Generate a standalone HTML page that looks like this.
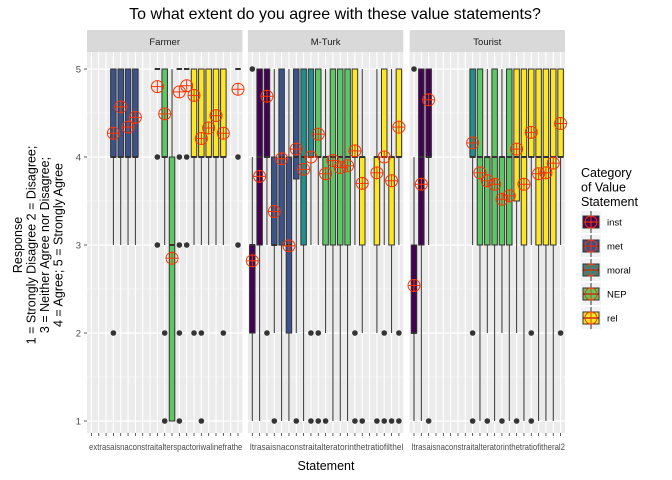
<!DOCTYPE html>
<html><head><meta charset="utf-8"><style>
body{margin:0;background:#fff;}
svg{display:block;font-family:"Liberation Sans",sans-serif;}
</style></head><body>
<svg id="chart" width="672" height="480" viewBox="0 0 672 480"></svg>
<script>
const catNames=["inst","met","moral","NEP","rel"];
const catColors=["#440154","#3B528B","#21908C","#5DC863","#FDE725"];
const stmtCat=[0,0,0,1,1,1,1,2,2,3,3,3,3,3,4,4,4,4,4,4,4];
const facets=["Farmer","M-Turk","Tourist"];
const yTicks=[1,2,3,4,5];
// Farmer
const fIdx=[3,4,5,6,9,10,11,12,13,14,15,16,17,18,20];
const fLo =[3,3,3,3,5,3,1,5,5,3,3,3,3,3,5];
const fQ1 =[4,4,4,4,5,4,1,5,5,4,4,4,4,4,5];
const fMed=[4,4,4,4,5,4,3,5,5,4,4,4,4,4,5];
const fQ3 =[5,5,5,5,5,5,4,5,5,5,5,5,5,5,5];
const fHi =[5,5,5,5,5,5,5,5,5,5,5,5,5,5,5];
const fMean=[4.27,4.57,4.34,4.45,4.8,4.49,2.85,4.74,4.81,4.7,4.21,4.33,4.47,4.27,4.77];
const fOutIdx=[9,12,13,20,9,12,13,20,3,10,12,14,15,18,10,12,15];
const fOutVal=[4,4,4,4,3,3,3,3,2,2,2,2,2,2,1,1,1];
// M-Turk
const mIdx=[0,1,2,3,4,5,6,7,8,9,10,11,12,13,14,15,17,18,19,20];
const mLo =[1,1,3,2,1,1,2,1,3,3,2,1,1,1,3,2,2,3,2,3];
const mQ1 =[2,3,4,3,3,2,3.75,3,4,4,3,3,3,3,4,3,3,4,3,4];
const mMed=[3,4,4,3,4,3,4,4,4,4,4,4,4,4,4,4,4,4,4,4];
const mQ3 =[3,5,5,4,5,4,5,5,5,5,4,5,5,5,5,4,4,5,4,5];
const mHi =[4,5,5,5,5,5,5,5,5,5,5,5,5,5,5,5,5,5,5,5];
const mMean=[2.82,3.78,4.69,3.38,3.98,2.99,4.09,3.86,4.0,4.26,3.81,3.96,3.88,3.9,4.07,3.7,3.82,4.0,3.73,4.34];
const mOutIdx=[0,2,8,9,14,18,20,3,6,8,9,10,14,15,17,18,19,20];
const mOutVal=[5,2,2,2,2,2,2,1,1,1,1,1,1,1,1,1,1,1];
// Tourist
const tIdx=[0,1,2,8,9,10,11,12,13,14,15,16,17,18,19,20];
const tLo =[1,1,3,3,1,2,1,2,1,2,1,3,1,1,1,3];
const tQ1 =[2,3,4,4,3,3,3,3,3,3.5,3,4,3,3,3,4];
const tMed=[2,4,4,4,4,4,4,4,4,4,4,4,4,4,4,4];
const tQ3 =[3,5,5,5,5,4,5,4,5,5,5,5,5,5,5,5];
const tHi =[4,5,5,5,5,5,5,5,5,5,5,5,5,5,5,5];
const tMean=[2.54,3.69,4.65,4.16,3.82,3.73,3.69,3.52,3.56,4.09,3.69,4.28,3.81,3.82,3.93,4.38];
const tOutIdx=[0,8,16,20,2,8,10,12,14,16];
const tOutVal=[5,2,2,2,1,1,1,1,1,1];

const panels=[
 {idx:fIdx,lo:fLo,q1:fQ1,med:fMed,q3:fQ3,hi:fHi,mean:fMean,oi:fOutIdx,ov:fOutVal},
 {idx:mIdx,lo:mLo,q1:mQ1,med:mMed,q3:mQ3,hi:mHi,mean:mMean,oi:mOutIdx,ov:mOutVal},
 {idx:tIdx,lo:tLo,q1:tQ1,med:tMed,q3:tQ3,hi:tHi,mean:tMean,oi:tOutIdx,ov:tOutVal}];

const NS="http://www.w3.org/2000/svg";
const svg=document.getElementById('chart');
function mk(tag,attrs,parent,txt){const e=document.createElementNS(NS,tag);for(const k in attrs)e.setAttribute(k,attrs[k]);if(txt!==undefined)e.textContent=txt;(parent||svg).appendChild(e);return e;}
const N=21, step=7.33, pW=(N-1+1.2)*step;
const panelLeft=[87,247.9,409.6];
const pTop=52, pBot=433;
function yS(v){return 421-(v-1)*88;}
function xS(p,i){return panelLeft[p]+0.6*step+i*step;}

let t=mk('text',{x:335,y:19,'text-anchor':'middle','font-size':16,fill:'#000'},svg,'To what extent do you agree with these value statements?');



panels.forEach((P,p)=>{
  const L=panelLeft[p];
  const g=mk('g',{});
  
  
  let s=mk('rect',{x:L,y:30,width:pW,height:22,fill:'#D9D9D9'},g);
  
  
  let st=mk('text',{x:L+pW/2,y:45,'text-anchor':'middle','font-size':9.5,fill:'#1a1a1a'},g,facets[p]);
  
  
  mk('rect',{x:L,y:pTop,width:pW,height:pBot-pTop,fill:'#EBEBEB'},g);
  for(let v=1.5;v<5;v++)mk('line',{x1:L,x2:L+pW,y1:yS(v),y2:yS(v),stroke:'#fff','stroke-width':0.6},g);
  yTicks.forEach(v=>mk('line',{x1:L,x2:L+pW,y1:yS(v),y2:yS(v),stroke:'#fff','stroke-width':1.2},g));
  for(let i=0;i<N;i++){
    mk('line',{x1:xS(p,i),x2:xS(p,i),y1:pTop,y2:pBot,stroke:'#fff','stroke-width':1.1},g);
    mk('line',{x1:xS(p,i),x2:xS(p,i),y1:pBot,y2:pBot+3,stroke:'#333','stroke-width':0.8},svg);
  }
  const bw=step*0.75;
  P.idx.forEach((i,k)=>{
    const x=xS(p,i);
    const b=mk('g',{},g);
    
    
    mk('line',{x1:x,x2:x,y1:yS(P.lo[k]),y2:yS(P.q1[k]),stroke:'#333','stroke-width':1},b);
    mk('line',{x1:x,x2:x,y1:yS(P.q3[k]),y2:yS(P.hi[k]),stroke:'#333','stroke-width':1},b);
    const h=Math.max(yS(P.q1[k])-yS(P.q3[k]),0);
    mk('rect',{x:x-bw/2,y:yS(P.q3[k]),width:bw,height:h,fill:catColors[stmtCat[i]],stroke:'#333','stroke-width':1},b);
    mk('line',{x1:x-bw/2,x2:x+bw/2,y1:yS(P.med[k]),y2:yS(P.med[k]),stroke:'#333','stroke-width':2},b);
  });
  P.oi.forEach((i,k)=>{
    const c=mk('circle',{cx:xS(p,i),cy:yS(P.ov[k]),r:2.8,fill:'#333'},g);
    
    
  });
  P.idx.forEach((i,k)=>{
    const x=xS(p,i),y=yS(P.mean[k]);
    const m=mk('g',{},g);
    
    
    mk('circle',{cx:x,cy:y,r:6,fill:'none',stroke:'#FF3300','stroke-width':1},m);
    mk('line',{x1:x-6,x2:x+6,y1:y,y2:y,stroke:'#FF3300','stroke-width':1},m);
    mk('line',{x1:x,x2:x,y1:y-6,y2:y+6,stroke:'#FF3300','stroke-width':1},m);
  });
  let xl=mk('text',{x:L+2,y:450,'font-size':9.5,fill:'#4d4d4d',textLength:pW-2,lengthAdjust:'spacingAndGlyphs'},svg,['extrasaisnaconstraitalterspactoriwalinefrathe','ltrasaisnaconstraitalteratorinthetratiofilthel','ltrasaisnaconstraitalteratorinthetratiofitheral2'][p]);
  
  
});
yTicks.forEach(v=>{
  mk('line',{x1:84,x2:87,y1:yS(v),y2:yS(v),stroke:'#333','stroke-width':0.8});
  const l=mk('text',{x:81,y:yS(v)+3.5,'text-anchor':'end','font-size':9.5,fill:'#4d4d4d'},svg,String(v));
  
  
});
const yt=mk('text',{transform:'translate(0,245) rotate(-90)','text-anchor':'middle','font-size':12.5,fill:'#000'});


["Response","1 = Strongly Disagree 2 = Disagree;","3 = Neither Agree nor Disagree;","4 = Agree; 5 = Strongly Agree"].forEach((s,k)=>mk('tspan',{x:0,y:22+k*13.5},yt,s));
const xt=mk('text',{x:326,y:470,'text-anchor':'middle','font-size':12.5,fill:'#000'},svg,'Statement');


const lg=mk('g',{});


["Category","of Value","Statement"].forEach((s,k)=>mk('text',{x:581,y:177+k*14.5,'font-size':12.5,fill:'#000'},lg,s));
catNames.forEach((n,k)=>{
  const cy=222+k*24;
  const e=mk('g',{},lg);
  
  
  mk('rect',{x:581,y:cy-11,width:20,height:22,fill:'#F2F2F2'},e);
  mk('line',{x1:591,x2:591,y1:cy-11,y2:cy+11,stroke:'#333','stroke-width':1},e);
  mk('rect',{x:583,y:cy-6,width:16,height:12,fill:catColors[k],stroke:'#333','stroke-width':1},e);
  mk('line',{x1:583,x2:599,y1:cy,y2:cy,stroke:'#333','stroke-width':1.5},e);
  mk('circle',{cx:591,cy:cy,r:6,fill:'none',stroke:'#FF3300','stroke-width':1},e);
  mk('line',{x1:585,x2:597,y1:cy,y2:cy,stroke:'#FF3300','stroke-width':1},e);
  mk('line',{x1:591,x2:591,y1:cy-6,y2:cy+6,stroke:'#FF3300','stroke-width':1},e);
  mk('text',{x:607,y:cy+3.5,'font-size':9.5,fill:'#000'},e,n);
});
</script>
</body></html>
